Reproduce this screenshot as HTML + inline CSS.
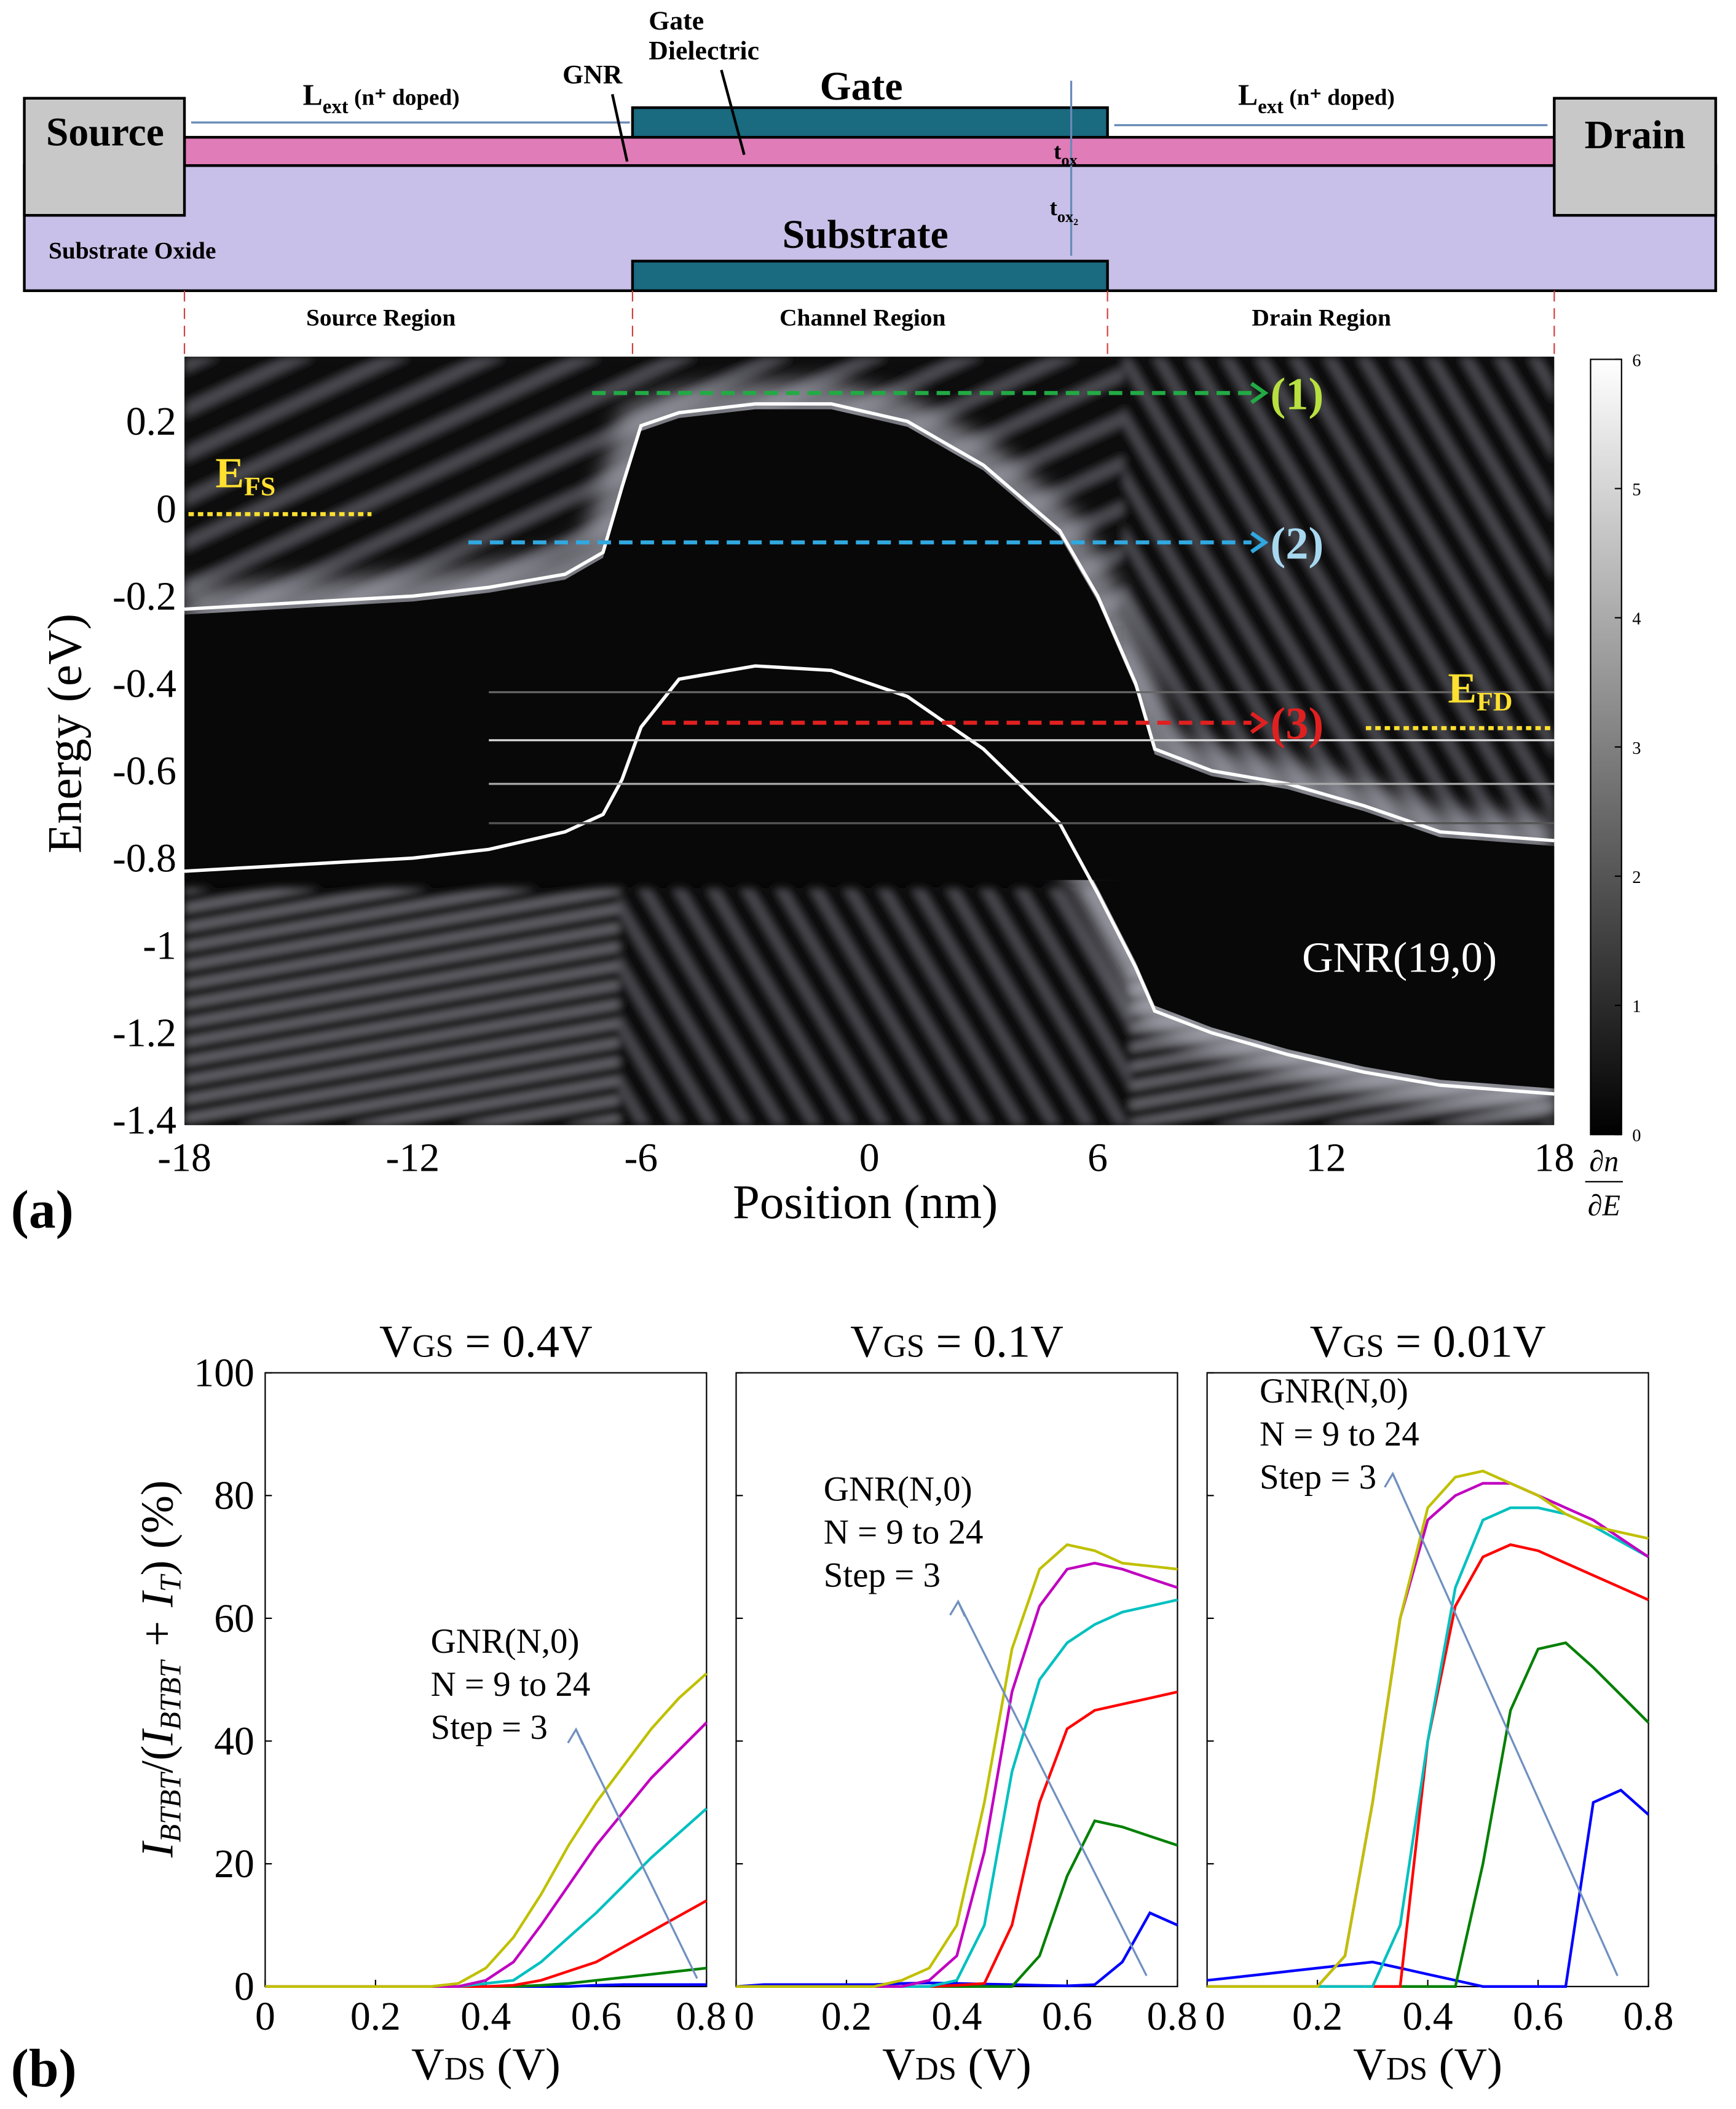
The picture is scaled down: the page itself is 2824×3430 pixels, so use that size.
<!DOCTYPE html>
<html><head><meta charset="utf-8"><style>
html,body{margin:0;padding:0;background:#fff}
svg{display:block}
text{font-family:"Liberation Serif",serif}
</style></head><body>
<svg id="root" width="2824" height="3430" viewBox="0 0 1290 1567" xmlns="http://www.w3.org/2000/svg">
<defs>
<linearGradient id="cb" x1="0" y1="0" x2="0" y2="1"><stop offset="0" stop-color="#fff"/><stop offset="1" stop-color="#000"/></linearGradient>
<filter id="bl"><feGaussianBlur stdDeviation="3"/></filter>
<filter id="gl" x="-20%" y="-20%" width="140%" height="140%"><feGaussianBlur stdDeviation="8"/></filter>
<pattern id="str" width="30" height="30" patternUnits="userSpaceOnUse" patternTransform="rotate(-25)"><rect width="30" height="30" fill="#0a0a0a"/><rect width="30" height="9" fill="#9a9aa6" opacity="0.45"/></pattern>
<pattern id="str2" width="22" height="22" patternUnits="userSpaceOnUse" patternTransform="rotate(60)"><rect width="22" height="22" fill="#0a0a0a"/><rect width="22" height="7" fill="#9a9aa6" opacity="0.45"/></pattern>
<pattern id="str3" width="14" height="14" patternUnits="userSpaceOnUse" patternTransform="rotate(-10)"><rect width="14" height="14" fill="#0a0a0a"/><rect width="14" height="5" fill="#b0b0bc" opacity="0.6"/></pattern>
<clipPath id="hc"><rect x="137" y="265" width="1018" height="571"/></clipPath>
</defs>
<g>
<rect x="18" y="123" width="1257" height="93" fill="#c8c0e8" stroke="#000" stroke-width="2"/>
<rect x="137" y="102" width="1018" height="21" fill="#e07cb8" stroke="#000" stroke-width="2"/>
<rect x="18" y="73" width="119" height="87" fill="#c8c8c8" stroke="#000" stroke-width="2"/>
<rect x="1155" y="73" width="120" height="87" fill="#c8c8c8" stroke="#000" stroke-width="2"/>
<rect x="470" y="80" width="353" height="22" fill="#1a6a80" stroke="#000" stroke-width="2"/>
<rect x="470" y="194" width="353" height="22" fill="#1a6a80" stroke="#000" stroke-width="2"/>
<text x="78" y="108" font-size="30" font-weight="bold" text-anchor="middle">Source</text>
<text x="1215" y="110" font-size="30" font-weight="bold" text-anchor="middle">Drain</text>
<text x="640" y="74" font-size="30" font-weight="bold" text-anchor="middle">Gate</text>
<text x="643" y="184" font-size="30" font-weight="bold" text-anchor="middle">Substrate</text>
<text x="36" y="192" font-size="18" font-weight="bold">Substrate Oxide</text>
<text x="482" y="22" font-size="20" font-weight="bold">Gate</text>
<text x="482" y="44" font-size="20" font-weight="bold">Dielectric</text>
<text x="418" y="62" font-size="20" font-weight="bold">GNR</text>
<text x="225" y="78" font-size="22" font-weight="bold">L<tspan font-size="15" dy="6">ext</tspan><tspan dy="-6" font-size="17"> (n⁺ doped)</tspan></text>
<text x="920" y="78" font-size="22" font-weight="bold">L<tspan font-size="15" dy="6">ext</tspan><tspan dy="-6" font-size="17"> (n⁺ doped)</tspan></text>
<line x1="142" y1="91" x2="468" y2="91" stroke="#6a8ab8" stroke-width="1.5"/>
<line x1="828" y1="93" x2="1150" y2="93" stroke="#6a8ab8" stroke-width="1.5"/>
<line x1="455" y1="70" x2="466" y2="120" stroke="#000" stroke-width="2"/>
<line x1="536" y1="52" x2="553" y2="115" stroke="#000" stroke-width="2"/>
<line x1="796" y1="60" x2="796" y2="190" stroke="#6a8ab8" stroke-width="1.5"/>
<text x="783" y="118" font-size="17" font-weight="bold">t<tspan font-size="12" dy="5">ox</tspan></text>
<text x="780" y="160" font-size="17" font-weight="bold">t<tspan font-size="12" dy="5">ox₂</tspan></text>
<text x="283" y="242" font-size="18" font-weight="bold" text-anchor="middle">Source Region</text>
<text x="641" y="242" font-size="18" font-weight="bold" text-anchor="middle">Channel Region</text>
<text x="982" y="242" font-size="18" font-weight="bold" text-anchor="middle">Drain Region</text>
<g stroke="#d04040" stroke-dasharray="8,5" stroke-width="1">
<line x1="137" y1="216" x2="137" y2="265"/><line x1="470" y1="216" x2="470" y2="265"/><line x1="823" y1="216" x2="823" y2="265"/><line x1="1155" y1="216" x2="1155" y2="265"/></g>
</g>
<g id="hm" clip-path="url(#hc)">
<rect x="137" y="265" width="1018" height="571" fill="#080808"/>
<g filter="url(#bl)">
<rect x="137" y="265" width="1018" height="200" fill="url(#str)"/>
<rect x="137" y="660" width="1018" height="176" fill="url(#str3)"/>
<rect x="460" y="660" width="380" height="176" fill="url(#str2)"/>
<rect x="835" y="265" width="320" height="360" fill="url(#str2)"/>
</g>
<g id="blk"></g>
</g>
<g id="bandG"></g>
<g id="hmAxes"></g>
<rect x="1182" y="267" width="23" height="576" fill="url(#cb)" stroke="#000"/>
<g id="cbt"></g>
<text x="1192" y="870" font-size="22" font-style="italic" text-anchor="middle">∂n</text>
<line x1="1178" y1="878" x2="1206" y2="878" stroke="#000"/>
<text x="1192" y="903" font-size="22" font-style="italic" text-anchor="middle">∂E</text>
<text x="8" y="912" font-size="40" font-weight="bold">(a)</text>
<text x="8" y="1550" font-size="40" font-weight="bold">(b)</text>
<g id="bp"></g>
<text transform="translate(128,1240) rotate(-90)" font-size="34" text-anchor="middle"><tspan font-style="italic">I<tspan font-size="22" dy="6">BTBT</tspan></tspan><tspan dy="-6">/(</tspan><tspan font-style="italic">I<tspan font-size="22" dy="6">BTBT</tspan><tspan dy="-6"> + I</tspan><tspan font-size="22" dy="6">T</tspan></tspan><tspan dy="-6">)   (%)</tspan></text>
</svg>
<script>
const NS="http://www.w3.org/2000/svg";
function mk(p,t,a,txt){const e=document.createElementNS(NS,t);for(const k in a)e.setAttribute(k,a[k]);if(txt!==undefined)e.textContent=txt;p.appendChild(e);return e;}
const posTicks=[-18,-12,-6,0,6,12,18];
const eTicks=[0.2,0,-0.2,-0.4,-0.6,-0.8,-1,-1.2,-1.4];
const eTickLabels=["0.2","0","-0.2","-0.4","-0.6","-0.8","-1","-1.2","-1.4"];
const cbTicks=[0,1,2,3,4,5,6];
const cbPos=[-18,-16,-14,-12,-10,-8,-7,-6.5,-6,-5,-3,-1,1,3,5,6,7,7.5,9,11,13,15,18];
const cbEnergy=[-0.23,-0.22,-0.21,-0.2,-0.18,-0.15,-0.1,0.05,0.19,0.22,0.24,0.24,0.2,0.1,-0.05,-0.2,-0.4,-0.55,-0.6,-0.63,-0.68,-0.74,-0.76];
const vbEnergy=[-0.83,-0.82,-0.81,-0.8,-0.78,-0.74,-0.7,-0.62,-0.5,-0.39,-0.36,-0.37,-0.43,-0.55,-0.72,-0.88,-1.05,-1.15,-1.2,-1.25,-1.29,-1.32,-1.34];
const hx=v=>137+(v+18)*(1018/36);
const hy=v=>378-v*(64.9/0.2);
const hA=document.getElementById('hmAxes');
posTicks.forEach(v=>{const t=mk(hA,'text',{x:hx(v),y:870,'font-size':30,'text-anchor':'middle'},String(v));

});
eTicks.forEach((v,i)=>{const t=mk(hA,'text',{x:131,y:hy(v)+10,'font-size':30,'text-anchor':'end'},eTickLabels[i]);

});
mk(hA,'text',{x:643,y:905,'font-size':36,'text-anchor':'middle'},"Position (nm)");
mk(hA,'text',{x:0,y:0,'font-size':36,'text-anchor':'middle',transform:'translate(60,545) rotate(-90)'},"Energy (eV)");
function smoothPath(xs,ys){return xs.map((x,i)=>(i?'L':'M')+hx(x).toFixed(1)+','+hy(ys[i]).toFixed(1)).join(' ');}
const blk=document.getElementById('blk');
mk(blk,'path',{d:smoothPath(cbPos,cbEnergy),fill:'none',stroke:'#a8a8b4','stroke-width':34,opacity:0.7,filter:'url(#gl)'});
mk(blk,'path',{d:smoothPath(cbPos.filter(x=>x>=5),vbEnergy.filter((v,i)=>cbPos[i]>=5)),fill:'none',stroke:'#b8b8c4','stroke-width':30,opacity:0.7,filter:'url(#gl)'});
let d1='M'+hx(-18)+','+hy(-0.85);
cbPos.forEach((x,i)=>{d1+=' L'+hx(x).toFixed(1)+','+(hy(cbEnergy[i])+4).toFixed(1);});
d1+=' L'+hx(18)+','+hy(-0.85)+' Z';
mk(blk,'path',{d:d1,fill:'#080808'});
let d2='M'+hx(4.5)+','+hy(-0.85);
cbPos.forEach((x,i)=>{if(x>=5)d2+=' L'+hx(x).toFixed(1)+','+(hy(vbEnergy[i])-4).toFixed(1);});
d2+=' L'+hx(18)+','+hy(-0.85)+' Z';
mk(blk,'path',{d:d2,fill:'#080808'});
const bg=document.getElementById('bandG');
const cb=mk(bg,'path',{d:smoothPath(cbPos,cbEnergy),fill:'none',stroke:'#fff','stroke-width':2.5});


const vb=mk(bg,'path',{d:smoothPath(cbPos,vbEnergy),fill:'none',stroke:'#fff','stroke-width':2.5});


[[-0.42,'#666'],[-0.53,'#ddd'],[-0.63,'#aaa'],[-0.72,'#555']].forEach(([e,c])=>mk(bg,'line',{x1:hx(-10),x2:hx(18),y1:hy(e),y2:hy(e),stroke:c,'stroke-width':1.5}));
[[440,930,292,'#22aa44','(1)','#b8e040'],[348,930,403,'#30a8e0','(2)','#a8d8f0'],[492,930,537,'#e02020','(3)','#e02020']].forEach(([x1,x2,y,c,l,lc])=>{
mk(bg,'line',{x1,x2,y1:y,y2:y,stroke:c,'stroke-width':3,'stroke-dasharray':'10,6'});
mk(bg,'path',{d:`M${x2},${y-7} L${x2+10},${y} L${x2},${y+7}`,fill:'none',stroke:c,'stroke-width':3});
mk(bg,'text',{x:x2+14,y:y+12,'font-size':34,'font-weight':'bold',fill:lc},l);});
mk(bg,'line',{x1:140,x2:276,y1:382,y2:382,stroke:'#ffe030','stroke-width':3,'stroke-dasharray':'4,3'});
mk(bg,'line',{x1:1015,x2:1152,y1:541,y2:541,stroke:'#ffe030','stroke-width':3,'stroke-dasharray':'4,3'});
const ef=mk(bg,'text',{x:160,y:362,'font-size':32,'font-weight':'bold',fill:'#ffe030'},'E');mk(ef,'tspan',{'font-size':20,dy:6},'FS');
const ed=mk(bg,'text',{x:1076,y:522,'font-size':32,'font-weight':'bold',fill:'#ffe030'},'E');mk(ed,'tspan',{'font-size':20,dy:6},'FD');
mk(bg,'text',{x:1040,y:722,'font-size':32,fill:'#fff','text-anchor':'middle'},'GNR(19,0)');
const cbt=document.getElementById('cbt');
cbTicks.forEach(v=>{const y=843-v*96;mk(cbt,'line',{x1:1200,x2:1205,y1:y,y2:y,stroke:'#000'});mk(cbt,'text',{x:1213,y:y+5,'font-size':13},String(v));});
const vds=[0,0.05,0.1,0.15,0.2,0.25,0.3,0.35,0.4,0.45,0.5,0.55,0.6,0.65,0.7,0.75,0.8];
const colors=['#0000ff','#008000','#ff0000','#00c0c0','#c000c0','#c0c000'];
const p1=[[0,0,0,0,0,0,0,0,0,0,0,0,0.2,0.3,0.3,0.3,0.3],[0,0,0,0,0,0,0,0,0,0,0.2,0.5,1,1.5,2,2.5,3],[0,0,0,0,0,0,0,0,0,0.2,1,2.5,4,6.5,9,11.5,14],[0,0,0,0,0,0,0,0,0.5,1,4,8,12,16.5,21,25,29],[0,0,0,0,0,0,0,0,1,4,10,16.5,23,28.5,34,38.5,43],[0,0,0,0,0,0,0,0.5,3,8,15,23,30,36,42,47,51]];
const p2=[[0,0.3,0.3,0.3,0.3,0.3,0.5,0.6,0.5,0.4,0.3,0.2,0.1,0.3,4,12,10],[0,0,0,0,0,0,0,0,0,0,0,5,18,27,26,24.5,23],[0,0,0,0,0,0,0,0,0.2,0.5,10,30,42,45,46,47,48],[0,0,0,0,0,0,0,0,1,10,35,50,56,59,61,62,63],[0,0,0,0,0,0,0,1,5,22,48,62,68,69,68,66.5,65],[0,0,0,0,0,0,1,3,10,30,55,68,72,71,69,68.5,68]];
const p3=[[1,1.5,2,2.5,3,3.5,4,3,2,1,0,0,0,0,30,32,28],[0,0,0,0,0,0,0,0,0,0,20,45,55,56,52,47.5,43],[0,0,0,0,0,0,0,0,40,62,70,72,71,69,67,65,63],[0,0,0,0,0,0,0,10,40,65,76,78,78,77,75,72.5,70],[0,0,0,0,0,5,30,60,76,80,82,82,80,78,76,73,70],[0,0,0,0,0,5,30,60,78,83,84,82,80,77,75,74,73]];
const panels=[{x0:197,title:'0.4V',data:p1,ann:[320,1228],arr:[518,1470,428,1285]},{x0:547,title:'0.1V',data:p2,ann:[612,1115],arr:[852,1468,712,1190]},{x0:897,title:'0.01V',data:p3,ann:[936,1042],arr:[1202,1468,1035,1095]}];
const xTicks=[0,0.2,0.4,0.6,0.8];const yTicks=[0,20,40,60,80,100];
const W=328,Y0=1476,Y1=1020;
const bp=document.getElementById('bp');
panels.forEach((p,pi)=>{
const g=mk(bp,'g',{});


const sx=v=>p.x0+v/0.8*W, sy=v=>Y0-v/100*(Y0-Y1);
mk(g,'rect',{x:p.x0,y:Y1,width:W,height:Y0-Y1,fill:'#fff',stroke:'#000','stroke-width':1});
const t=mk(g,'text',{x:p.x0+W/2,y:1008,'font-size':34,'text-anchor':'middle'},'V');mk(t,'tspan',{'font-size':24},'GS');mk(t,'tspan',{},' = '+p.title);
xTicks.forEach(v=>{mk(g,'line',{x1:sx(v),x2:sx(v),y1:Y0,y2:Y0-5,stroke:'#000'});
let tx=sx(v);if(pi<2&&v==0.8)tx-=4;if(pi>0&&v==0)tx+=6;
mk(g,'text',{x:tx,y:1508,'font-size':30,'text-anchor':'middle'},String(v));});
yTicks.forEach(v=>{mk(g,'line',{x1:p.x0,x2:p.x0+5,y1:sy(v),y2:sy(v),stroke:'#000'});
if(pi==0)mk(g,'text',{x:189,y:sy(v)+10,'font-size':30,'text-anchor':'end'},String(v));});
const xl=mk(g,'text',{x:p.x0+W/2,y:1545,'font-size':34,'text-anchor':'middle'},'V');mk(xl,'tspan',{'font-size':24},'DS');mk(xl,'tspan',{},' (V)');
p.data.forEach((s,i)=>{const l=mk(g,'path',{d:s.map((v,j)=>(j?'L':'M')+sx(vds[j]).toFixed(1)+','+sy(v).toFixed(1)).join(' '),fill:'none',stroke:colors[i],'stroke-width':2});

});
['GNR(N,0)','N = 9 to 24','Step = 3'].forEach((s,k)=>mk(g,'text',{x:p.ann[0],y:p.ann[1]+k*32,'font-size':26},s));
const a=p.arr;mk(g,'line',{x1:a[0],y1:a[1],x2:a[2],y2:a[3],stroke:'#7090c0','stroke-width':1.5});
mk(g,'path',{d:`M${a[2]-6},${a[3]+10} L${a[2]},${a[3]} L${a[2]+5},${a[3]+11}`,fill:'none',stroke:'#7090c0','stroke-width':1.5});
});
</script>
</body></html>
